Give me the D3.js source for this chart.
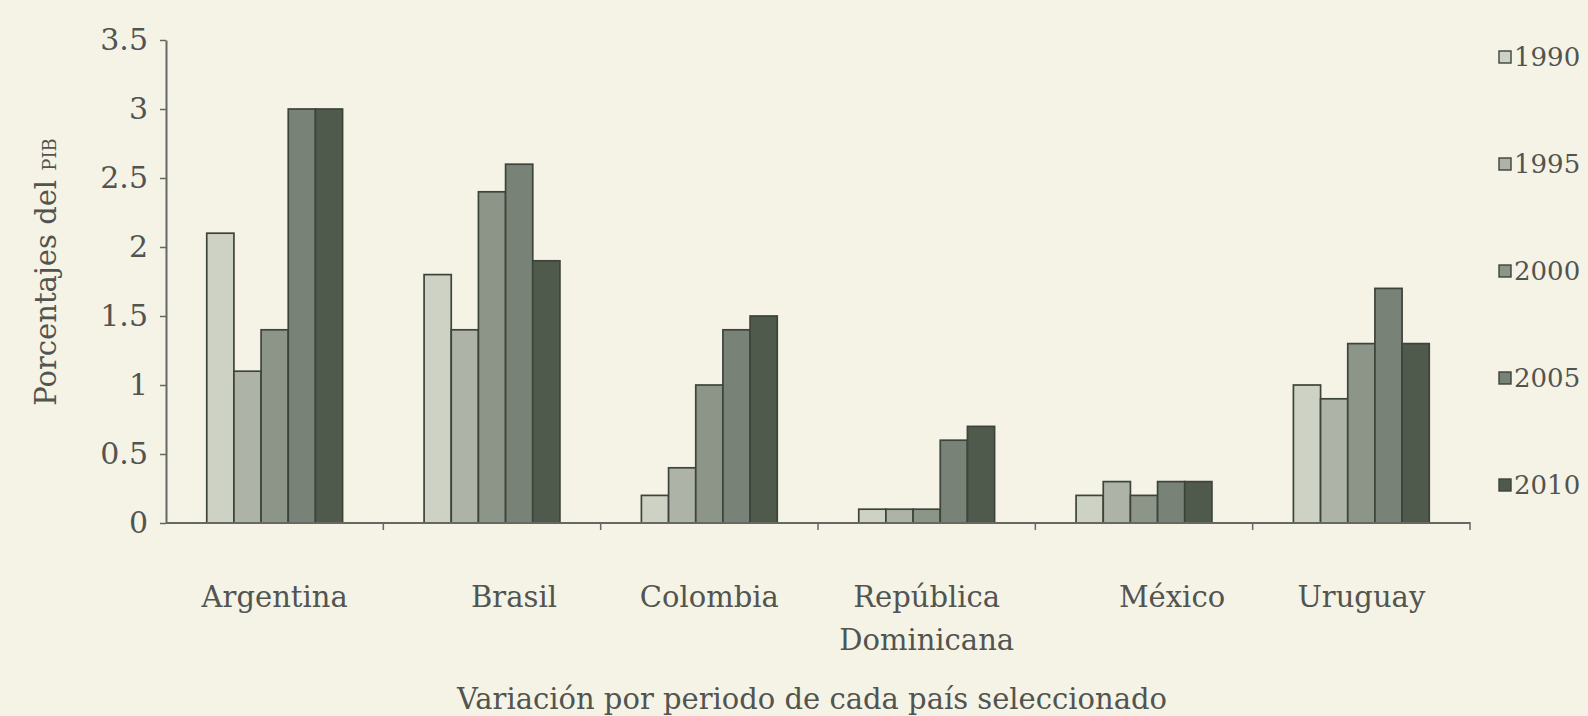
<!DOCTYPE html>
<html>
<head>
<meta charset="utf-8">
<script src="https://cdn.jsdelivr.net/npm/d3@7"></script>
<style>
  body { margin: 0; background: #f4f3e6; }
  svg { display: block; }
  text { font-family: "DejaVu Serif", serif; fill: #525450; }
</style>
</head>
<body>
<div id="vis"></div>
<script>
const WIDTH = 1588;
const HEIGHT = 716;

// data
const countries = ["Argentina", "Brasil", "Colombia", "República Dominicana", "México", "Uruguay"];
const countryLines = [["Argentina"], ["Brasil"], ["Colombia"], ["República", "Dominicana"], ["México"], ["Uruguay"]];
const years = ["1990", "1995", "2000", "2005", "2010"];
const v1990 = [2.1, 1.8, 0.2, 0.1, 0.2, 1.0];
const v1995 = [1.1, 1.4, 0.4, 0.1, 0.3, 0.9];
const v2000 = [1.4, 2.4, 1.0, 0.1, 0.2, 1.3];
const v2005 = [3.0, 2.6, 1.4, 0.6, 0.3, 1.7];
const v2010 = [3.0, 1.9, 1.5, 0.7, 0.3, 1.3];
const yTicks = [0, 0.5, 1, 1.5, 2, 2.5, 3, 3.5];

const series = [v1990, v1995, v2000, v2005, v2010];
const colors = ["#cdd2c4", "#adb3a6", "#8d9589", "#788276", "#4f5a4c"];
// the original nudges a couple of labels off centre
const labelNudge = [0, 22, 0, 0, 28, 0];

const svg = d3.select("#vis").append("svg")
  .attr("width", WIDTH)
  .attr("height", HEIGHT);

const x0 = d3.scaleBand().domain(countries).range([166, 1470])
  .paddingInner(0.375).paddingOuter(0.1875);
const x1 = d3.scaleBand().domain(years).range([0, x0.bandwidth()]);
const y = d3.scaleLinear().domain([0, 3.5]).range([523, 40]);
const color = d3.scaleOrdinal().domain(years).range(colors);

// bars
const rows = countries.map((c, i) => ({country: c, vals: years.map((yr, j) => ({year: yr, value: series[j][i]}))}));

const groups = svg.selectAll(".grp")
  .data(rows)
  .enter().append("g")
  .attr("class", "grp")
  .attr("transform", d => "translate(" + x0(d.country) + ",0)");

groups.selectAll("rect")
  .data(d => d.vals)
  .enter().append("rect")
  .attr("x", d => x1(d.year))
  .attr("y", d => y(d.value))
  .attr("width", x1.bandwidth())
  .attr("height", d => y(0) - y(d.value))
  .attr("fill", d => color(d.year))
  .attr("stroke", "#3d443b")
  .attr("stroke-width", 1.7);

// y axis
const yAxis = svg.append("g")
  .attr("transform", "translate(166,0)")
  .call(d3.axisLeft(y).tickValues(yTicks).tickFormat(d3.format("")).tickSize(6).tickSizeOuter(0).tickPadding(12));
yAxis.select(".domain").attr("stroke", "#666863").attr("stroke-width", 2);
yAxis.selectAll(".tick line").attr("stroke", "#666863").attr("stroke-width", 1.5);
yAxis.selectAll(".tick text").style("font-size", "30px").attr("fill", "#525450");

// x axis line and boundary ticks
svg.append("line")
  .attr("x1", x0.range()[0]).attr("x2", x0.range()[1])
  .attr("y1", y(0)).attr("y2", y(0))
  .attr("stroke", "#666863").attr("stroke-width", 2);

const bounds = d3.range(1, countries.length + 1).map(i => x0.range()[0] + i * x0.step());
svg.selectAll(".xtick")
  .data(bounds)
  .enter().append("line")
  .attr("x1", d => d).attr("x2", d => d)
  .attr("y1", y(0) - 1).attr("y2", y(0) + 7)
  .attr("stroke", "#666863").attr("stroke-width", 1.5);

// category labels
svg.selectAll(".clabel")
  .data(countries)
  .enter().append("text")
  .attr("class", "clabel")
  .attr("text-anchor", "middle")
  .attr("y", 607)
  .style("font-size", "29px")
  .each(function (d, i) {
    const cx = x0(d) + x0.bandwidth() / 2 + labelNudge[i];
    d3.select(this).selectAll("tspan")
      .data(countryLines[i])
      .enter().append("tspan")
      .attr("x", cx)
      .attr("dy", (t, k) => k === 0 ? 0 : 43)
      .text(t => t);
  });

// axis titles
svg.append("text")
  .attr("text-anchor", "middle")
  .attr("x", 812)
  .attr("y", 709)
  .style("font-size", "29px")
  .text("Variación por periodo de cada país seleccionado");

const yt = svg.append("text")
  .attr("text-anchor", "middle")
  .attr("transform", "translate(56,272) rotate(-90)")
  .style("font-size", "29px");
yt.append("tspan").text("Porcentajes del ");
yt.append("tspan").style("font-size", "18px").text("PIB");

// legend
const legend = svg.selectAll(".leg")
  .data(years)
  .enter().append("g")
  .attr("class", "leg")
  .attr("transform", (d, i) => "translate(1499," + (57 + i * 107) + ")");

legend.append("rect")
  .attr("x", 0).attr("y", -6)
  .attr("width", 12).attr("height", 12)
  .attr("fill", d => color(d))
  .attr("stroke", "#3d443b").attr("stroke-width", 1.4);

legend.append("text")
  .attr("x", 15)
  .attr("y", 9)
  .style("font-size", "26px")
  .text(d => d);
</script>
</body>
</html>
